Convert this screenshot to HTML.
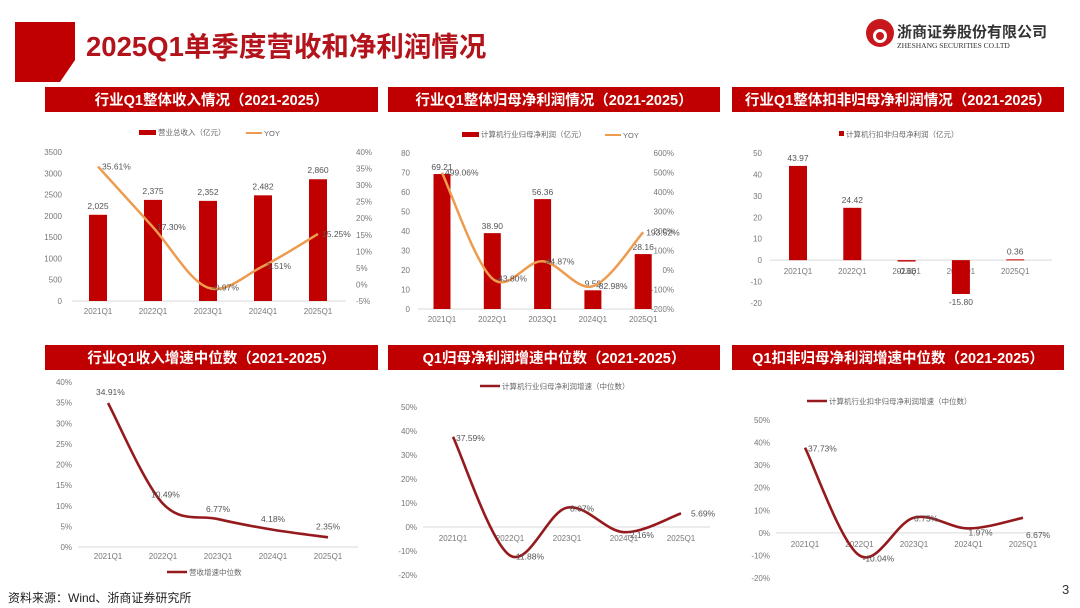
<!DOCTYPE html>
<html><head><meta charset="utf-8">
<style>
body{margin:0;width:1080px;height:608px;background:#fff;overflow:hidden;font-family:"Liberation Sans","Noto Sans CJK SC",sans-serif;}
svg{position:absolute;left:0;top:0}
</style></head>
<body>
<svg id="s" width="1080" height="608" xmlns="http://www.w3.org/2000/svg" font-family="Liberation Sans, Noto Sans CJK SC, sans-serif">
<g>
<polygon points="15,22 75,22 75,60 60,82 15,82" fill="#c00000"/>
<text x="86" y="56" font-size="27.5" font-weight="bold" fill="#b3141c">2025Q1单季度营收和净利润情况</text>
<g>
<circle cx="880" cy="33" r="14" fill="#c8161d"/>
<circle cx="880" cy="36" r="7" fill="#fff"/>
<circle cx="880" cy="36" r="4" fill="#c8161d"/>
<text x="897" y="37" font-size="15" font-weight="bold" fill="#333">浙商证券股份有限公司</text>
<text x="897" y="48" font-size="7.5" fill="#333" font-family="Liberation Serif, serif">ZHESHANG SECURITIES CO.LTD</text>
</g>
</g>
<g id="root"></g>
<text x="8" y="602" font-size="12" fill="#222">资料来源：Wind、浙商证券研究所</text>
<text x="1062" y="594" font-size="13" fill="#333">3</text>
</svg>
<script>
// ---- data ----
const cats = ["2021Q1","2022Q1","2023Q1","2024Q1","2025Q1"];
const revenue = [2025,2375,2352,2482,2860];
const revenueYoy = [35.61,17.30,-0.97,5.51,15.25];
const revTicksL = [0,500,1000,1500,2000,2500,3000,3500];
const revTicksR = [-5,0,5,10,15,20,25,30,35,40];
const netProfit = [69.21,38.90,56.36,9.59,28.16];
const netYoy = [499.06,-43.80,44.87,-82.98,193.52];
const npTicksL = [0,10,20,30,40,50,60,70,80];
const npTicksR = [-200,-100,0,100,200,300,400,500,600];
const deducted = [43.97,24.42,-0.66,-15.80,0.36];
const dedTicks = [-20,-10,0,10,20,30,40,50];
const revMedian = [34.91,10.49,6.77,4.18,2.35];
const revMedTicks = [0,5,10,15,20,25,30,35,40];
const npMedian = [37.59,-11.88,8.07,-2.16,5.69];
const dedMedian = [37.73,-10.04,6.75,1.97,6.67];
const medTicks = [-20,-10,0,10,20,30,40,50];

const NS="http://www.w3.org/2000/svg";
const root=document.getElementById('root');
function el(tag,attrs,parent,txt){const e=document.createElementNS(NS,tag);for(const k in attrs)e.setAttribute(k,attrs[k]);if(txt!==undefined)e.textContent=txt;(parent||root).appendChild(e);return e;}
function scale(d0,d1,r0,r1){return v=>r0+(v-d0)/(d1-d0)*(r1-r0);}
function smooth(pts){let d=`M${pts[0][0]},${pts[0][1]}`;for(let i=0;i<pts.length-1;i++){const p0=pts[i-1]||pts[i],p1=pts[i],p2=pts[i+1],p3=pts[i+2]||p2;const c1=[p1[0]+(p2[0]-p0[0])/6,p1[1]+(p2[1]-p0[1])/6],c2=[p2[0]-(p3[0]-p1[0])/6,p2[1]-(p3[1]-p1[1])/6];d+=` C${c1[0]},${c1[1]} ${c2[0]},${c2[1]} ${p2[0]},${p2[1]}`;}return d;}
function fmt(v,dec){return v.toLocaleString('en-US',{minimumFractionDigits:dec,maximumFractionDigits:dec});}

function panelTitle(x,y,w,txt,name){
 const g=el('g',{});
 
 
 el('rect',{x:x,y:y,width:w,height:25,fill:'#c00000'},g);
 el('text',{x:x+w/2,y:y+18,'text-anchor':'middle','font-size':14.5,'font-weight':'bold',fill:'#fff'},g,txt);
}
function axisTicks(g,ticks,sy,x,anchor,fmtf){
 ticks.forEach(t=>{const tx=el('text',{x:x,y:sy(t)+3,'text-anchor':anchor,'font-size':8,fill:'#777'},g,fmtf(t));
 
 });
}
function catLabels(g,sx,y){
 cats.forEach((c,i)=>{const t=el('text',{x:sx(i),y:y,'text-anchor':'middle','font-size':8,fill:'#777'},g,c);
 
 });
}

// ---- Chart 1 ----
panelTitle(45,87,333,'行业Q1整体收入情况（2021-2025）','chart1-title');
(function(){
 const g=el('g',{});
 
 
 const sx=i=>98+i*55, sy=scale(0,3500,301,152), sr=scale(-5,40,301,152);
 axisTicks(g,revTicksL,sy,62,'end',t=>String(t));
 axisTicks(g,revTicksR,sr,356,'start',t=>t+'%');
 el('line',{x1:72,x2:346,y1:301,y2:301,stroke:'#d9d9d9'},g);
 revenue.forEach((v,i)=>{const b=el('rect',{x:sx(i)-9,y:sy(v),width:18,height:sy(0)-sy(v),fill:'#c00000'},g);
 
 
 el('text',{x:sx(i),y:sy(v)-6,'text-anchor':'middle','font-size':8.5,fill:'#555'},g,fmt(v,0));});
 const pts=revenueYoy.map((v,i)=>[sx(i),sr(v)]);
 const p=el('path',{d:smooth(pts),fill:'none',stroke:'#ed9b4f','stroke-width':2.5},g);
 
 
 revenueYoy.forEach((v,i)=>el('text',{x:sx(i)+4,y:sr(v)+3,'font-size':8.5,fill:'#555'},g,v.toFixed(2)+'%'));
 catLabels(g,sx,314);
 const lg=el('g',{},g);
 
 
 el('rect',{x:139,y:130,width:17,height:5,fill:'#c00000'},lg);
 el('text',{x:158,y:135,'font-size':7.5,fill:'#666'},lg,'营业总收入（亿元）');
 el('line',{x1:246,x2:262,y1:133,y2:133,stroke:'#ed9b4f','stroke-width':2},lg);
 el('text',{x:264,y:136,'font-size':7.5,fill:'#666'},lg,'YOY');
})();

// ---- Chart 2 ----
panelTitle(388,87,332,'行业Q1整体归母净利润情况（2021-2025）','chart2-title');
(function(){
 const g=el('g',{});
 
 
 const sx=i=>442+i*50.3, sy=scale(0,80,309,153), sr=scale(-200,600,309,153);
 axisTicks(g,npTicksL,sy,410,'end',t=>String(t));
 axisTicks(g,npTicksR,sr,674,'end',t=>t+'%');
 el('line',{x1:418,x2:668,y1:309,y2:309,stroke:'#d9d9d9'},g);
 netProfit.forEach((v,i)=>{const b=el('rect',{x:sx(i)-8.5,y:sy(v),width:17,height:sy(0)-sy(v),fill:'#c00000'},g);
 
 
 el('text',{x:sx(i),y:sy(v)-4,'text-anchor':'middle','font-size':8.5,fill:'#555'},g,v.toFixed(2));});
 const pts=netYoy.map((v,i)=>[sx(i),sr(v)]);
 const p=el('path',{d:smooth(pts),fill:'none',stroke:'#ed9b4f','stroke-width':2.5},g);
 
 
 netYoy.forEach((v,i)=>el('text',{x:sx(i)+3,y:sr(v)+3,'font-size':8.5,fill:'#555'},g,v.toFixed(2)+'%'));
 catLabels(g,sx,322);
 const lg=el('g',{},g);
 
 
 el('rect',{x:462,y:132,width:17,height:5,fill:'#c00000'},lg);
 el('text',{x:481,y:137,'font-size':7.5,fill:'#666'},lg,'计算机行业归母净利润（亿元）');
 el('line',{x1:605,x2:621,y1:135,y2:135,stroke:'#ed9b4f','stroke-width':2},lg);
 el('text',{x:623,y:138,'font-size':7.5,fill:'#666'},lg,'YOY');
})();

// ---- Chart 3 ----
panelTitle(732,87,332,'行业Q1整体扣非归母净利润情况（2021-2025）','chart3-title');
(function(){
 const g=el('g',{});
 
 
 const sx=i=>798+i*54.3, sy=scale(-20,50,303,153);
 axisTicks(g,dedTicks,sy,762,'end',t=>String(t));
 el('line',{x1:770,x2:1052,y1:sy(0),y2:sy(0),stroke:'#d9d9d9'},g);
 catLabels(g,sx,274);
 deducted.forEach((v,i)=>{const y=Math.min(sy(v),sy(0)),h=Math.max(Math.abs(sy(v)-sy(0)),1);
 const b=el('rect',{x:sx(i)-9,y:y,width:18,height:h,fill:'#c00000'},g);
 
 
 const ly=v>=0?sy(v)-5:(v<-5?sy(v)+11:sy(0)+14);
 el('text',{x:sx(i),y:ly,'text-anchor':'middle','font-size':8.5,fill:'#555'},g,v.toFixed(2));});
 const lg=el('g',{},g);
 
 
 el('rect',{x:839,y:131,width:5,height:5,fill:'#c00000'},lg);
 el('text',{x:846,y:137,'font-size':7.5,fill:'#666'},lg,'计算机行扣非归母净利润（亿元）');
})();

// ---- Line charts ----
function lineChart(o){
 const g=el('g',{});
 
 
 const sx=i=>o.x0+i*o.dx, sy=scale(o.t0,o.t1,o.y0,o.y1);
 axisTicks(g,o.ticks,sy,o.ax,'end',t=>t+'%');
 el('line',{x1:o.ax+6,x2:o.xe,y1:sy(0),y2:sy(0),stroke:'#d9d9d9'},g);
 catLabels(g,sx,sy(0)+o.catDy);
 const pts=o.vals.map((v,i)=>[sx(i),sy(v)]);
 const p=el('path',{d:smooth(pts),fill:'none',stroke:'#951a1d','stroke-width':2.6},g);
 
 
 o.vals.forEach((v,i)=>{const d=o.lab[i];el('text',{x:sx(i)+d[0],y:sy(v)+d[1],'text-anchor':d[2]||'start','font-size':8.5,fill:'#555'},g,v.toFixed(2)+'%');});
 const lg=el('g',{},g);
 
 
 el('line',{x1:o.lx,x2:o.lx+20,y1:o.ly,y2:o.ly,stroke:'#951a1d','stroke-width':2.5},lg);
 el('text',{x:o.lx+22,y:o.ly+3,'font-size':7.5,fill:'#666'},lg,o.legend);
}
panelTitle(45,345,333,'行业Q1收入增速中位数（2021-2025）','chart4-title');
lineChart({name:'revenue-median-chart',vals:revMedian,ticks:revMedTicks,t0:0,t1:40,y0:547,y1:382,x0:108,dx:55,ax:72,xe:358,catDy:12,
 lab:[[-12,-8],[-12,-6],[-12,-7],[-12,-8],[-12,-8]],lx:167,ly:572,legend:'营收增速中位数'});
panelTitle(388,345,332,'Q1归母净利润增速中位数（2021-2025）','chart5-title');
lineChart({name:'net-profit-median-chart',vals:npMedian,ticks:medTicks,t0:-20,t1:50,y0:575,y1:407,x0:453,dx:57,ax:417,xe:710,catDy:14,
 lab:[[3,4],[3,4],[3,4],[3,6],[10,3]],lx:480,ly:386,legend:'计算机行业归母净利润增速（中位数）'});
panelTitle(732,345,332,'Q1扣非归母净利润增速中位数（2021-2025）','chart6-title');
lineChart({name:'deducted-median-chart',vals:dedMedian,ticks:medTicks,t0:-20,t1:50,y0:578,y1:420,x0:805,dx:54.5,ax:770,xe:1050,catDy:14,
 lab:[[3,4],[3,6],[0,4],[0,7],[3,20]],lx:807,ly:401,legend:'计算机行业扣非归母净利润增速（中位数）'});
</script>
</body></html>
